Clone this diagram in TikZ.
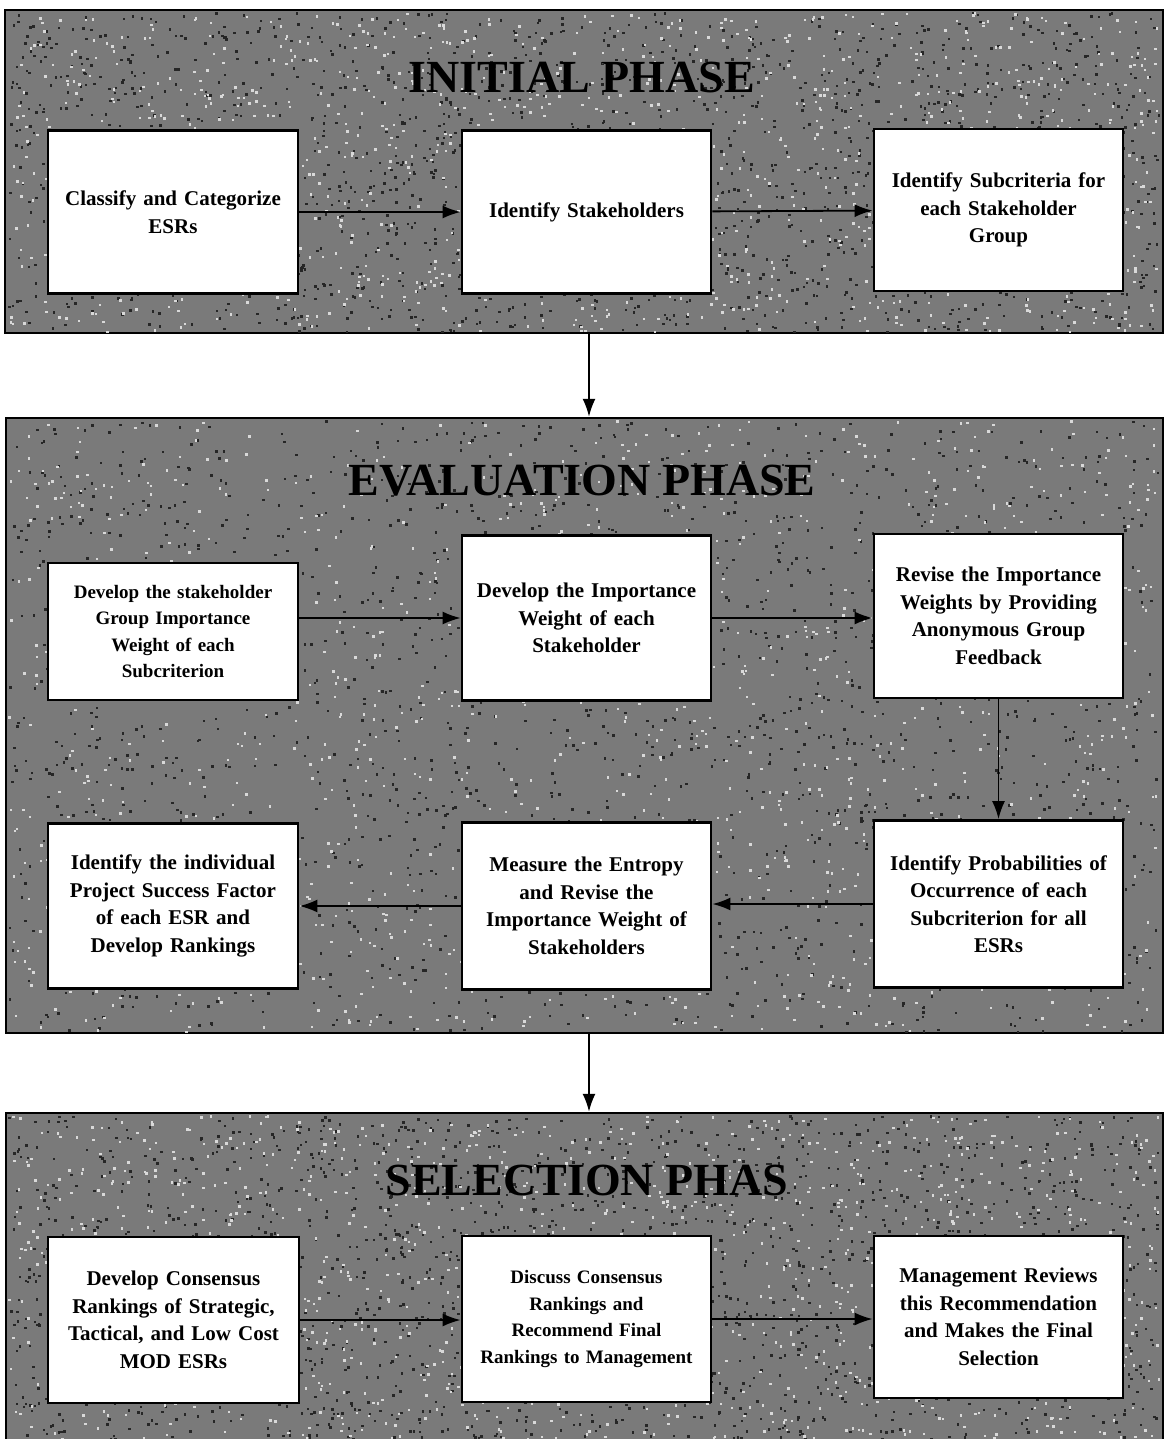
\documentclass[tikz,border=0pt]{standalone}
\usepackage{fontspec}
\setmainfont{Liberation Serif}
\usetikzlibrary{arrows.meta,calc}
\begin{document}
\begin{tikzpicture}[x=1pt,y=-1pt,
 panel/.style={draw=black,line width=2.5pt,fill=black!52,rectangle,inner sep=0pt},
 stepbox/.style={draw=black,line width=2.8pt,fill=white,inner sep=4pt,text width=240pt,align=center,
   font=\fontsize{21}{27.5}\selectfont\bfseries},
 smallbox/.style={stepbox,font=\fontsize{19}{26.5}\selectfont\bfseries},
 phasetitle/.style={font=\fontsize{46}{50}\selectfont\bfseries,inner sep=0pt,text=black},
 flow/.style={line width=1.8pt,-{Latex[length=18pt,width=13pt]}},
]
\useasboundingbox (0,0) rectangle (1165,1439);

% panels
\node[panel,minimum width=1158pt,minimum height=323pt] (p1) at (584,171.5) {};
\node[panel,minimum width=1157pt,minimum height=615pt] (p2) at (584.5,725.5) {};
\node[panel,minimum width=1157pt,minimum height=332pt] (p3) at (584.5,1279) {};

% texture
\pgfmathsetseed{4711}
\foreach \yt/\yh in {12/319, 420/611, 1115/326}{
  \foreach \i in {1,...,1800}{
    \pgfmathsetmacro{\xx}{8+1150*rnd}
    \pgfmathsetmacro{\yy}{\yt+\yh*rnd}
    \fill[black!85] (\xx,\yy) rectangle ++(2.5,2.5);
  }
  \foreach \i in {1,...,1200}{
    \pgfmathsetmacro{\xx}{8+1150*rnd}
    \pgfmathsetmacro{\yy}{\yt+\yh*rnd}
    \fill[black!15] (\xx,\yy) rectangle ++(2.5,2.5);
  }
}

% titles
\node[phasetitle] (t1) at (582,77) {INITIAL PHASE};
\node[phasetitle] (t2) at (582,481) {EVALUATION PHASE};
\node[phasetitle] (t3) at (587,1180) {SELECTION PHAS};

% initial phase
\node[stepbox,minimum width=250pt,minimum height=163pt] (i1) at (173,212) {Classify and Categorize\\ESRs};
\node[stepbox,minimum width=249pt,minimum height=163pt] (i2) at (586.5,212) {Identify Stakeholders};
\node[stepbox,minimum width=249pt,minimum height=162pt] (i3) at (998.5,210) {Identify Subcriteria for\\each Stakeholder\\Group};

% evaluation phase
\node[smallbox,minimum width=250pt,minimum height=137pt] (e1) at (173,631.5) {Develop the stakeholder\\Group Importance\\Weight of each\\Subcriterion};
\node[stepbox,minimum width=249pt,minimum height=165pt] (e2) at (586.5,618) {Develop the Importance\\Weight of each\\Stakeholder};
\node[stepbox,minimum width=249pt,minimum height=164pt] (e3) at (998.5,616) {Revise the Importance\\Weights by Providing\\Anonymous Group\\Feedback};
\node[stepbox,minimum width=250pt,minimum height=165pt] (e4) at (173,906) {Identify the individual\\Project Success Factor\\of each ESR and\\Develop Rankings};
\node[stepbox,minimum width=249pt,minimum height=167pt] (e5) at (586.5,906) {Measure the Entropy\\and Revise the\\Importance Weight of\\Stakeholders};
\node[stepbox,minimum width=249pt,minimum height=167pt] (e6) at (998.5,904) {Identify Probabilities of\\Occurrence of each\\Subcriterion for all\\ESRs};

% selection phase
\node[stepbox,minimum width=251pt,minimum height=166pt] (s1) at (173.5,1320) {Develop Consensus\\Rankings of Strategic,\\Tactical, and Low Cost\\MOD ESRs};
\node[smallbox,minimum width=249pt,minimum height=166pt] (s2) at (586.5,1319) {Discuss Consensus\\Rankings and\\Recommend Final\\Rankings to Management};
\node[stepbox,minimum width=249pt,minimum height=162pt] (s3) at (998.5,1317) {Management Reviews\\this Recommendation\\and Makes the Final\\Selection};

% connectors
\draw[flow] (i1) -- (i2);
\draw[flow] (i2) -- (i3);
\draw[flow] ($(p1.south)+(5,0)$) -- ($(p2.north)+(4.5,0)$);
\draw[flow] (e1.east |- e2.west) -- (e2.west);
\draw[flow] (e2) -- (e3.west |- e2.east);
\draw[flow] (e3) -- (e6);
\draw[flow] (e6) -- (e5.east |- e6.west);
\draw[flow] (e5) -- (e4.east |- e5.west);
\draw[flow] ($(p2.south)+(4.5,0)$) -- ($(p3.north)+(4.5,0)$);
\draw[flow] (s1) -- (s2.west |- s1.east);
\draw[flow] (s2) -- (s3.west |- s2.east);
\end{tikzpicture}
\end{document}
